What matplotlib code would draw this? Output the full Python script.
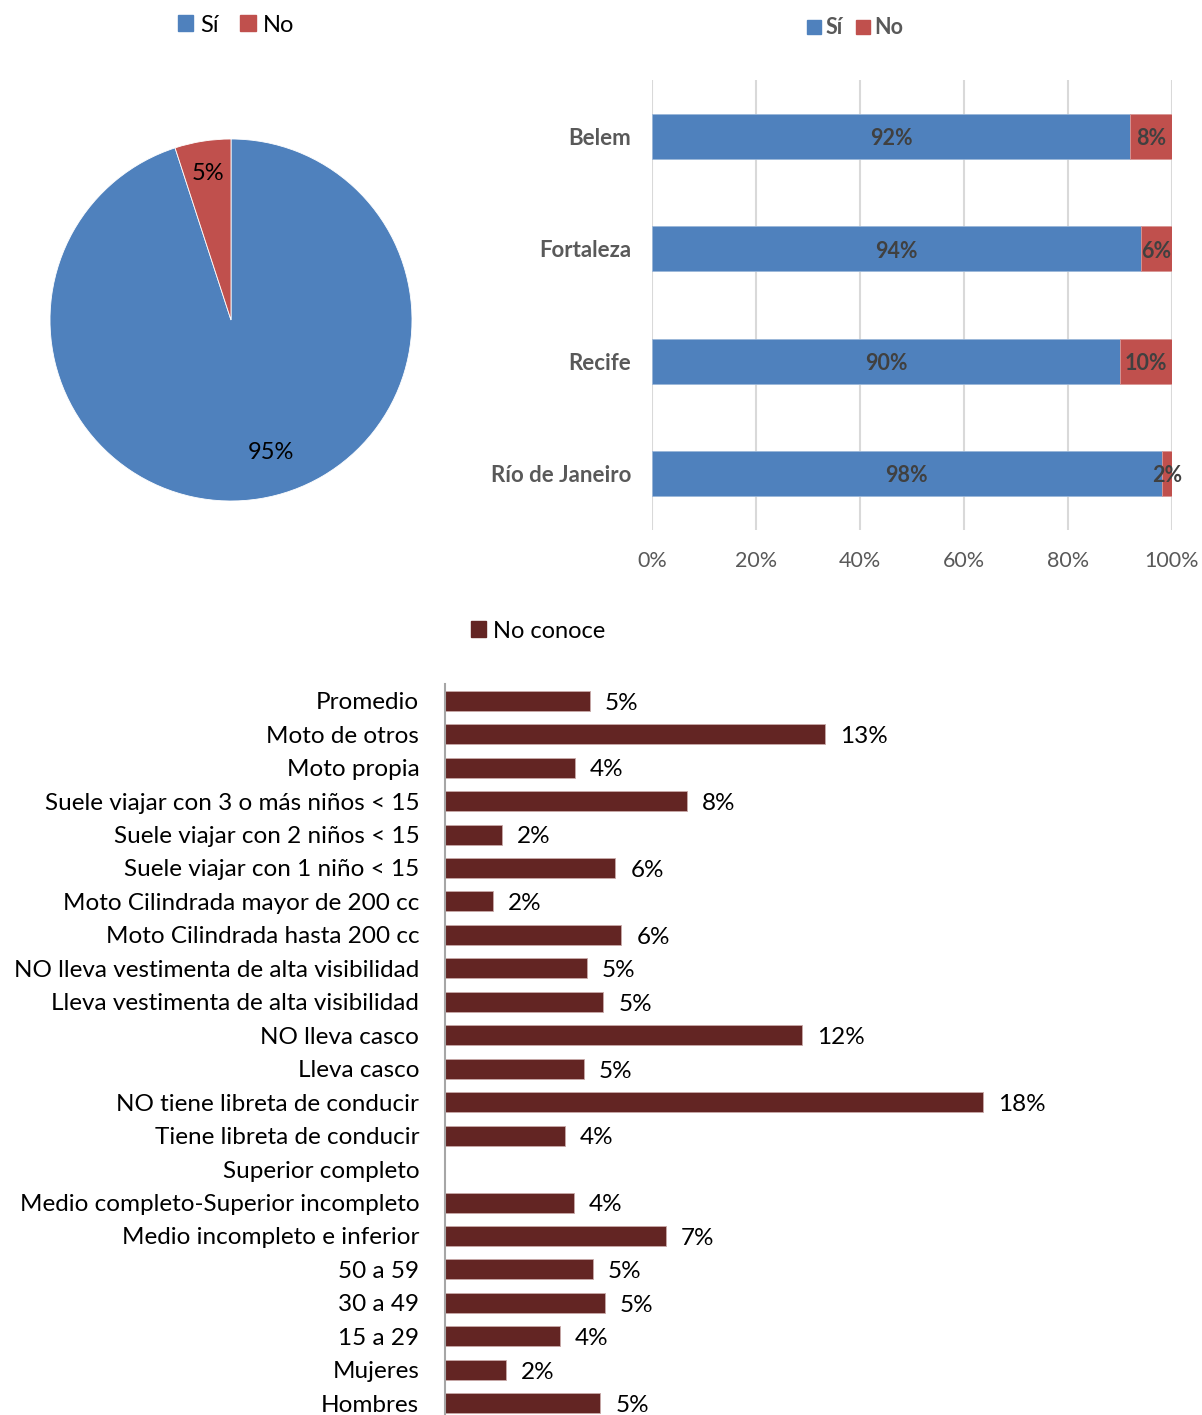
import matplotlib.pyplot as plt
from matplotlib.patches import Patch

plt.rcParams["font.family"] = ["Lato", "DejaVu Sans"]

W, H = 1202, 1415

# pie: overall
pie_labels = ["Sí", "No"]
pie_values = [95, 5]

# stacked bars by city
cities = ["Belem", "Fortaleza", "Recife", "Río de Janeiro"]
si_values = [92, 94, 90, 98]
no_values = [8, 6, 10, 2]

# "No conoce" by group (top to bottom)
groups = [
    "Promedio", "Moto de otros", "Moto propia",
    "Suele viajar con 3 o más niños < 15", "Suele viajar con 2 niños < 15",
    "Suele viajar con 1 niño < 15", "Moto Cilindrada mayor de 200 cc",
    "Moto Cilindrada hasta 200 cc", "NO lleva vestimenta de alta visibilidad",
    "Lleva vestimenta de alta visibilidad", "NO lleva casco", "Lleva casco",
    "NO tiene libreta de conducir", "Tiene libreta de conducir",
    "Superior completo", "Medio completo-Superior incompleto",
    "Medio incompleto e inferior", "50 a 59", "30 a 49", "15 a 29",
    "Mujeres", "Hombres",
]
no_conoce = [
    4.85, 12.7, 4.35, 8.1, 1.9, 5.7, 1.6, 5.9, 4.75, 5.3, 11.95, 4.65,
    18.0, 4.0, None, 4.3, 7.4, 4.95, 5.35, 3.85, 2.05, 5.2,
]

BLUE = "#4F81BD"
RED = "#C0504D"
MAROON = "#632523"
GRAY = "#595959"


def box(left, top, right, bottom):
    return [left / W, 1 - bottom / H, (right - left) / W, (bottom - top) / H]


fig = plt.figure(figsize=(W / 100, H / 100), dpi=100)

# ---- pie ----
ax1 = fig.add_axes(box(50, 139, 412, 501))
wedges, _, autotexts = ax1.pie(
    pie_values, colors=[BLUE, RED], startangle=90, counterclock=False,
    autopct="%d%%", pctdistance=0.82, radius=1,
    wedgeprops=dict(edgecolor="white", linewidth=0.6),
    textprops=dict(fontsize=17, color="black"),
)
autotexts[0].set_position((0.22, -0.73))
ax1.set_xlim(-1, 1)
ax1.set_ylim(-1, 1)
ax1.set_aspect("equal")
fig.legend(
    [Patch(color=BLUE), Patch(color=RED)], pie_labels,
    loc="center", bbox_to_anchor=(236 / W, 1 - 25 / H), ncol=2,
    frameon=False, fontsize=17, handlelength=0.65, handleheight=0.65,
    handletextpad=0.3, columnspacing=0.9,
)

# ---- stacked bars ----
ax2 = fig.add_axes(box(652, 80, 1172, 530))
ypos = list(range(len(cities)))
ax2.barh(ypos, si_values, height=0.4, color=BLUE, edgecolor="#9BB7D9", linewidth=0.6)
ax2.barh(ypos, no_values, left=si_values, height=0.4, color=RED,
         edgecolor="#D99694", linewidth=0.6)
for y, s, n in zip(ypos, si_values, no_values):
    ax2.text(s / 2, y + 0.02, f"{s}%", ha="center", va="center", fontsize=15.5,
             fontweight="bold", color="#404040")
    ax2.text(s + n / 2, y + 0.02, f"{n}%", ha="center", va="center", fontsize=15.5,
             fontweight="bold", color="#404040")
ax2.set_xlim(0, 100)
ax2.set_ylim(len(cities) - 0.5, -0.5)
ax2.set_yticks(ypos)
ax2.set_yticklabels(cities, fontsize=16, fontweight="bold", color=GRAY)
ax2.set_xticks(range(0, 101, 20))
ax2.set_xticklabels([f"{v}%" for v in range(0, 101, 20)], fontsize=15.5, color=GRAY)
ax2.tick_params(length=0, pad=15)
ax2.tick_params(axis="y", pad=15)
ax2.grid(axis="x", color="#D9D9D9", linewidth=1.5)
ax2.set_axisbelow(True)
for sp in ax2.spines.values():
    sp.set_visible(False)
fig.legend(
    [Patch(color=BLUE), Patch(color=RED)], ["Sí", "No"],
    loc="center", bbox_to_anchor=(855 / W, 1 - 28 / H), ncol=2,
    frameon=False, prop=dict(size=15.5, weight="bold"), labelcolor=GRAY,
    handlelength=0.65, handleheight=0.65, handletextpad=0.2, columnspacing=0.6,
)

# ---- No conoce ----
ax3 = fig.add_axes(box(445, 684, 1202, 1420))
gpos = list(range(len(groups)))
vals = [v if v is not None else 0 for v in no_conoce]
ax3.barh(gpos, vals, height=0.6, color=MAROON, edgecolor="#C9A9A8", linewidth=0.6)
for y, v in zip(gpos, no_conoce):
    if v is None:
        continue
    ax3.text(v + 0.5, y + 0.07, f"{v:.0f}%", ha="left", va="center",
             fontsize=17.5, color="black")
ax3.set_xlim(0, 757 / 29.9)
ax3.set_ylim(len(groups) - 0.5, -0.5)
ax3.set_yticks(gpos)
ax3.set_yticklabels(groups, fontsize=17.5, color="black")
ax3.set_xticks([])
ax3.tick_params(axis="y", length=0, pad=18.5)
for name, sp in ax3.spines.items():
    sp.set_visible(name == "left")
ax3.spines["left"].set_color("#A6A6A6")
ax3.spines["left"].set_linewidth(1.5)
fig.legend(
    [Patch(color=MAROON)], ["No conoce"],
    loc="center", bbox_to_anchor=(538 / W, 1 - 631 / H), frameon=False,
    fontsize=17, handlelength=0.65, handleheight=0.65, handletextpad=0.3,
)

fig.savefig("out.png", dpi=100)
